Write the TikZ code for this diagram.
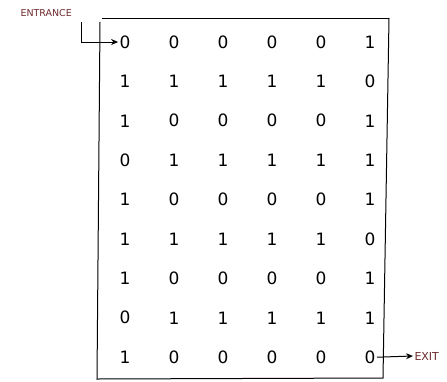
\documentclass[tikz,border=0pt]{standalone}
\usepackage{fontspec}
\setmainfont{DejaVu Sans}
\usetikzlibrary{arrows.meta}
\definecolor{pen}{HTML}{6E2A2E}

\begin{document}
\begin{tikzpicture}[x=1pt, y=-1pt, >={Stealth[length=7pt,width=6pt]}, line width=1pt]
		\tikzset{bit/.style={font=\fontsize{17}{19}\selectfont, inner sep=1pt},
			tag/.style={text=pen, font=\fontsize{9.5}{11}\selectfont, inner sep=1pt}}
		\useasboundingbox (0,0) rectangle (447,381);
		% frame of the grid
		\draw (102,18) -- (389,18);
		\draw (100,22) -- (97,379) -- (383,378) -- (389,18);
		% the bits, row by row
		\foreach \bits [count=\r] in {{0,0,0,0,0,1},{1,1,1,1,1,0},{1,0,0,0,0,1},
			{0,1,1,1,1,1},{1,0,0,0,0,1},{1,1,1,1,1,0},{1,0,0,0,0,1},
			{0,1,1,1,1,1},{1,0,0,0,0,0}}
		{
			\foreach \v [count=\c] in \bits
				\node[bit] (c-\r-\c) at ({125+49*(\c-1)},{42+39.4*(\r-1)}) {\v};
		}
		% entrance and exit
		\node[tag, anchor=west] (entrance) at (19,13) {ENTRANCE};
		\coordinate (in) at (81,22);
		\draw[->] (in) |- (c-1-1.west);
		\node[tag, anchor=west, font=\fontsize{11}{13}\selectfont] (exit) at (413,356) {EXIT};
		\draw[->] (c-9-6.east) -- (exit.west);
	\end{tikzpicture}
\end{document}
